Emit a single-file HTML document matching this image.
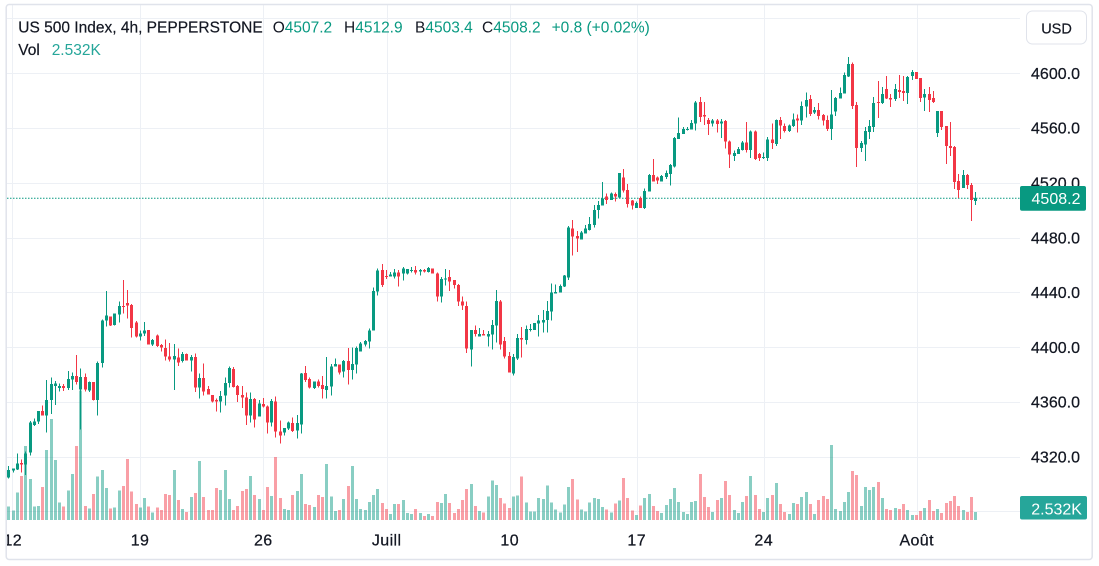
<!DOCTYPE html>
<html><head><meta charset="utf-8">
<style>
html,body{margin:0;padding:0;background:#fff;}
body{width:1099px;height:566px;overflow:hidden;position:relative;font-family:"Liberation Sans",Arial,sans-serif;}
svg{position:absolute;left:0;top:0;}
</style></head>
<body>
<svg id="c" width="1099" height="566" viewBox="0 0 1099 566" xmlns="http://www.w3.org/2000/svg" font-family="Liberation Sans, Arial, sans-serif">
  <defs>
    <clipPath id="pane"><rect x="7" y="5" width="1013" height="515"/></clipPath>
    <clipPath id="taxis"><rect x="7" y="520" width="1013" height="40"/></clipPath>
  </defs>
  <rect x="0" y="0" width="1099" height="566" fill="#fff"/>
  <g id="grid" stroke="#edf0f5" stroke-width="1" shape-rendering="crispEdges"></g>
  <g clip-path="url(#pane)">
    <g id="vol" shape-rendering="crispEdges"></g>
    <line x1="7" y1="198.3" x2="1020" y2="198.3" stroke="#089981" stroke-width="1" stroke-dasharray="1.5 1.5"/>
    <g id="cdl" shape-rendering="crispEdges"></g>
  </g>

  <!-- header legend -->
  <g font-size="15.5">
    <text x="18.3" y="32.3" fill="#131722" stroke="#131722" stroke-width="0.2">US 500 Index, 4h, PEPPERSTONE</text>
    <text x="272.7" y="32.3"><tspan fill="#131722">O</tspan><tspan fill="#089981">4507.2</tspan></text>
    <text x="344" y="32.3"><tspan fill="#131722">H</tspan><tspan fill="#089981">4512.9</tspan></text>
    <text x="415" y="32.3"><tspan fill="#131722">B</tspan><tspan fill="#089981">4503.4</tspan></text>
    <text x="482" y="32.3"><tspan fill="#131722">C</tspan><tspan fill="#089981">4508.2</tspan></text>
    <text x="551.6" y="32.3" fill="#089981">+0.8 (+0.02%)</text>
    <text x="18.3" y="55" fill="#131722" stroke="#131722" stroke-width="0.2">Vol</text>
    <text x="51.7" y="55" fill="#26a69a">2.532K</text>
  </g>

  <!-- price axis labels -->
  <g id="plabels" font-size="16" fill="#131722" stroke="#131722" stroke-width="0.25" text-anchor="middle"></g>

  <!-- USD box -->
  <rect x="1026.5" y="11" width="60" height="33" rx="6" ry="6" fill="#fff" stroke="#e0e3eb" stroke-width="1"/>
  <text x="1056.5" y="33.3" font-size="14.5" fill="#131722" stroke="#131722" stroke-width="0.2" text-anchor="middle">USD</text>

  <!-- last price badge -->
  <rect x="1020" y="186" width="66" height="24.7" rx="2" fill="#089981"/>
  <text x="1056" y="204" font-size="16" fill="#fff" text-anchor="middle">4508.2</text>

  <!-- volume badge -->
  <rect x="1020" y="496" width="67" height="23.5" rx="2" fill="#26a69a"/>
  <text x="1056.6" y="514.3" font-size="16" fill="#fff" text-anchor="middle">2.532K</text>

  <!-- time axis -->
  <g clip-path="url(#taxis)" font-size="16" fill="#131722" stroke="#131722" stroke-width="0.25" text-anchor="middle" letter-spacing="0.4">
    <text x="12.8" y="545.7">12</text>
    <text x="140" y="545.7">19</text>
    <text x="263.3" y="545.7">26</text>
    <text x="386.7" y="545.7">Juill</text>
    <text x="509.7" y="545.7">10</text>
    <text x="636.7" y="545.7">17</text>
    <text x="763.7" y="545.7">24</text>
    <text x="916.7" y="545.7">Août</text>
  </g>

  <!-- frame -->
  <rect x="6.2" y="4.5" width="1086" height="555" rx="3" fill="none" stroke="#e0e3eb" stroke-width="1.5"/>
</svg>
<script>
(function(){
var NS="http://www.w3.org/2000/svg";
function el(tag,attrs,parent){var e=document.createElementNS(NS,tag);for(var k in attrs)e.setAttribute(k,attrs[k]);parent.appendChild(e);return e;}
var grid=document.getElementById('grid');
for(var k=0;k<10;k++){var y=Math.round(18.4+k*54.78)+0.5;el('line',{x1:7,y1:y,x2:1020,y2:y},grid);}
[12.3,140,263.3,386.7,509.7,636.7,763.7,916.7].forEach(function(x){var xx=Math.round(x)+0.5;el('line',{x1:xx,y1:5,x2:xx,y2:520},grid);});
var pl=document.getElementById('plabels');
var labs=['4600.0','4560.0','4520.0','4480.0','4440.0','4400.0','4360.0','4320.0'];
for(var j=0;j<labs.length;j++){var t=el('text',{x:1055.5,y:(18.4+(j+1)*54.78+5.75).toFixed(1)},pl);t.textContent=labs[j];}

var segs=[
[260,[
[1,630,653,618,655,740],[1,625,632,625,638,752],[1,610,628,580,630,698],[0,609,614,598,638,648],[1,580,614,575,645,558],
[1,487,578,483,587,657],[1,484,495,475,498,740],[1,453,485,453,492,738],[0,453,467,436,467,681],[1,420,467,360,518,570],
[1,372,420,352,462,477],[1,370,378,363,435,600],[1,378,384,370,395,728],[0,378,384,372,393,740],[1,357,384,333,390,692],
[1,348,359,338,390,642],[0,348,366,285,373,558],[1,351,389,326,508,392],[0,351,389,340,394,738],[1,366,392,364,396,746],
[0,366,420,366,422,702],[1,309,420,305,467,650],[1,182,309,178,323,630],[1,166,182,93,200,684],[0,170,197,170,198,746],
[1,160,195,160,197,743],[1,138,163,125,188,692],[0,138,140,60,160,678],[0,129,137,90,176,597],[0,135,204,132,233,695],
[0,188,230,183,232,732],[1,220,230,212,241,743],[1,212,220,186,228,714],[0,210,254,210,254,740],[1,240,254,237,258,758],
[0,226,258,224,261,743]
]],
[260,[
[0,255,263,252,275,750],[0,264,290,238,302,702],[0,290,298,249,305,705],[1,288,298,252,390,630],[0,292,308,265,318,720],
[1,282,303,276,308,747],[0,282,302,280,302,756],[1,291,302,285,335,711],[0,291,383,280,396,699],[1,354,383,340,416,603],
[0,354,395,310,407,711],[0,387,404,378,404,750],[0,405,425,405,427,750],[0,420,424,416,455,684],[1,408,425,393,458,690],
[1,369,407,353,437,630],[1,324,369,320,383,717],[0,327,381,321,383,750],[0,378,405,375,426,738],[0,405,413,378,444,693],
[0,413,467,398,495,687],[1,417,467,398,488,648],[0,417,479,414,503,705],[1,430,470,420,470,717],[0,432,440,414,442,750],
[0,440,488,436,521,681],[1,423,488,417,500,708],[0,425,515,410,533,591],[0,514,527,482,551,714],[1,504,518,504,527,747],
[1,487,506,485,510,750],[0,489,513,472,516,705],[1,489,512,465,536,693],[1,341,494,339,521,642],[0,339,360,318,366,732],
[0,357,382,352,386,735],[1,364,384,364,387,741],[0,365,378,358,383,705],[0,375,387,348,416,711]
]],
[230,[
[1,468,480,381,506,702],[1,410,470,402,497,800],[1,402,410,385,410,843],[0,403,428,403,434,840],[1,393,425,390,442,807],
[0,393,420,354,464,768],[1,402,420,352,449,708],[1,354,404,350,431,807],[1,340,365,336,365,837],[1,333,344,330,350,840],
[1,301,335,295,356,816],[1,183,302,173,302,795],[1,122,185,115,197,777],[0,120,165,102,171,819],[0,138,141,120,147,837],
[1,134,140,126,140,852],[1,128,140,117,146,822],[0,128,140,120,170,822],[1,116,131,111,152,810],[1,117,131,117,134,849],
[1,120,123,111,127,852],[0,120,127,108,134,837],[1,120,125,117,137,849],[0,120,125,117,128,858],[1,114,126,111,128,852],
[0,116,130,115,130,858],[0,130,200,127,215,816],[1,147,200,141,218,819],[1,145,147,117,166,792],[0,141,155,120,183,819],
[0,150,165,150,176,849],[0,165,215,162,228,837],[0,215,227,200,240,810],[0,228,356,215,369,777],[1,300,359,300,410,762],
[0,300,312,286,320,828],[1,312,320,294,320,843]
]],
[140,[
[0,582,586,570,587,1118],[1,582,590,573,620,1070],[1,555,584,540,629,1022],[1,483,557,450,608,1035],[0,485,614,480,629,1074],
[0,603,650,591,656,1091],[0,648,698,636,698,1104],[1,651,701,642,707,1070],[1,594,655,582,660,1067],[0,594,598,561,653,1010],
[1,567,600,557,613,1088],[1,567,570,552,575,1115],[1,549,570,549,570,1115],[1,542,550,525,590,1074],[1,540,548,510,577,1077],
[1,513,540,483,578,1037],[1,457,515,430,542,1088],[1,456,461,434,461,1109],[1,438,458,433,458,1118],[1,407,440,405,441,1094],
[1,263,413,258,420,1041],[0,265,290,240,347,1017],[0,288,296,273,336,1079],[1,278,299,273,299,1109],[1,266,281,255,281,1115],
[1,252,270,231,272,1088],[1,210,255,195,263,1074],[1,195,210,183,235,1077],[1,175,197,126,197,1101],[0,170,180,160,192,1109],
[1,160,180,158,180,1118],[0,162,170,157,185,1091],[1,99,172,99,175,1082],[0,113,152,87,157,1014],[0,150,192,132,203,1074],
[0,182,197,180,209,1112],[1,189,204,185,204,1125],[0,174,204,170,204,1097]
]],
[80,[
[1,333,384,326,387,1254],[1,285,335,282,335,1242],[0,285,305,237,305,1278],[0,293,302,289,312,1293],[1,288,305,285,305,1299],
[1,279,291,272,297,1275],[1,255,282,252,317,1257],[1,174,260,171,262,1224],[1,159,177,113,177,1266],[1,147,162,141,162,1296],
[1,147,150,141,152,1302],[1,129,148,120,149,1266],[1,68,131,63,152,1263],[0,66,111,51,126,1182],[0,105,110,66,135,1251],
[0,120,132,114,165,1281],[1,122,131,117,140,1296],[0,122,132,117,157,1260],[1,125,131,117,174,1254],[0,123,185,120,206,1203],
[0,185,224,182,264,1245],[1,219,228,212,243,1290],[1,207,222,201,222,1299],[1,188,210,183,212,1266],[0,188,210,126,218,1248],
[1,155,210,152,234,1188],[0,155,237,152,240,1245],[0,222,234,219,243,1287],[1,231,234,217,237,1296],[1,179,234,171,243,1254],
[0,179,189,131,207,1245],[1,120,192,119,198,1209],[0,120,137,111,177,1272],[0,138,153,131,158,1296],[1,137,153,134,156,1302],
[1,118,138,101,141,1269],[0,116,122,104,158,1272]
]],
[55,[
[1,153,197,140,210,1326],[1,135,155,113,188,1311],[0,132,177,120,183,1347],[1,165,173,156,177,1377],[0,165,183,144,194,1335],
[0,180,197,177,212,1323],[0,195,222,182,228,1332],[1,178,222,105,255,1170],[1,129,170,126,183,1362],[1,114,131,98,131,1368],
[1,60,116,53,116,1341],[1,27,64,6,66,1311],[0,27,153,23,162,1248],[0,150,279,141,336,1260],[1,264,279,258,291,1353],
[1,228,268,216,318,1296],[1,213,231,195,252,1305],[1,144,216,126,231,1296],[0,141,144,78,189,1281],[1,117,144,96,147,1329],
[0,102,131,63,132,1362],[0,129,134,117,156,1365],[1,102,132,87,138,1359],[0,105,111,60,129,1362],[0,108,114,63,138,1347],
[1,66,114,63,147,1365],[1,51,63,45,75,1380],[0,51,72,51,72,1380],[0,69,129,69,141,1368],[1,117,128,102,168,1359],
[0,117,135,96,171,1335],[0,129,141,108,144,1368],[1,168,234,168,246,1362],[0,168,216,168,225,1374],[0,213,273,213,327,1344],
[0,273,279,201,303,1338],[0,276,381,273,402,1323],[0,378,405,357,429,1353],[1,360,399,345,399,1365],[0,360,390,357,402,1371],
[0,390,435,384,498,1326],[1,429,438,411,450,1371]
]]
];
var vg=document.getElementById('vol'), cg=document.getElementById('cdl');
var i=0;
segs.forEach(function(s){
  var y0=s[0];
  s[1].forEach(function(d){
    var xc=Math.round(8.3+i*4.241);
    var col=d[0]?'#089981':'#f23645';
    var vcol=d[0]?'rgba(8,153,129,0.48)':'rgba(242,54,69,0.48)';
    var bt=y0+d[1]/3, bb=y0+d[2]/3, wt=y0+d[3]/3, wb=y0+d[4]/3, vt=y0+d[5]/3;
    el('rect',{x:xc-1,y:vt.toFixed(1),width:3,height:Math.max(1,520-vt).toFixed(1),fill:vcol},vg);
    el('rect',{x:xc,y:wt.toFixed(1),width:1,height:Math.max(1,wb-wt).toFixed(1),fill:col},cg);
    el('rect',{x:xc-1,y:bt.toFixed(1),width:3,height:Math.max(1,bb-bt).toFixed(1),fill:col},cg);
    i++;
  });
});
})();
</script>
</body></html>
